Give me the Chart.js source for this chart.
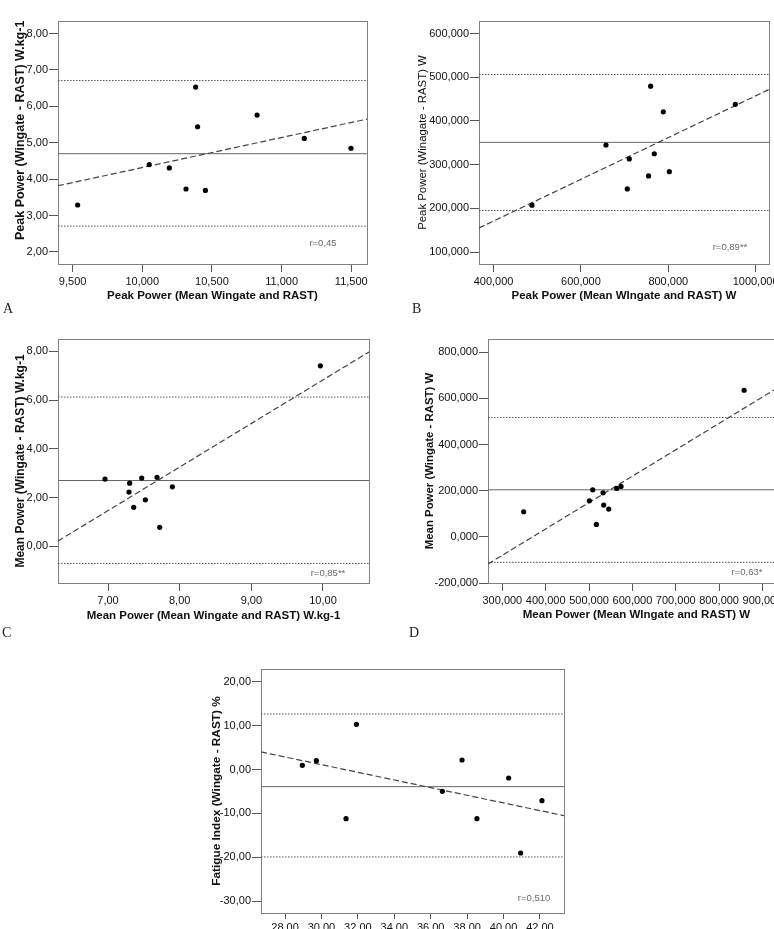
<!DOCTYPE html>
<html>
<head>
<meta charset="utf-8">
<script src="https://cdn.jsdelivr.net/npm/chart.js@4.4.1/dist/chart.umd.min.js"></script>
<style>
html, body { margin: 0; padding: 0; background: #fff; }
body { width: 774px; height: 929px; overflow: hidden; position: relative; }
canvas { position: absolute; }
.tag { position: absolute; font: 14px "Liberation Serif", "DejaVu Serif", serif; color: #222; line-height: 14px; }
</style>
</head>
<body>
<canvas id="chartA"></canvas>
<canvas id="chartB"></canvas>
<canvas id="chartC"></canvas>
<canvas id="chartD"></canvas>
<canvas id="chartE"></canvas>
<div class="tag" style="left:3px;top:302px">A</div>
<div class="tag" style="left:412px;top:302px">B</div>
<div class="tag" style="left:2px;top:626px">C</div>
<div class="tag" style="left:409px;top:626px">D</div>
<script>
// A - peak power, W.kg-1
var aMeans = [9.536, 10.05, 10.194, 10.314, 10.383, 10.397, 10.453, 10.824, 11.163, 11.498];
var aDiffs = [3.29, 4.40, 4.31, 3.73, 6.53, 5.44, 3.69, 5.76, 5.12, 4.85];
var aBias = 4.70;
var aLimits = [2.71, 6.71];
var aRegY = [3.82, 5.65];
var aXRange = [9.395, 11.613];
var aYRange = [1.67, 8.345];
var aXTicks = [9.5, 10, 10.5, 11, 11.5];
var aYTicks = [2, 3, 4, 5, 6, 7, 8];

// B - peak power, W
var bMeans = [487.9, 657.4, 710.8, 706.2, 759.6, 755, 768, 788.6, 802.4, 953.5];
var bDiffs = [207.3, 345, 313, 244.5, 479.7, 274.2, 325, 421, 284, 438];
var bBias = 351;
var bLimits = [195, 506.4];
var bRegY = [155, 472];
var bXRange = [366.6, 1030.7];
var bYRange = [72.6, 628.8];
var bXTicks = [400, 600, 800, 1000];
var bYTicks = [100, 200, 300, 400, 500, 600];

// C - mean power, W.kg-1
var cMeans = [6.958, 7.302, 7.293, 7.358, 7.470, 7.521, 7.684, 7.721, 7.898, 9.963];
var cDiffs = [2.76, 2.59, 2.225, 1.60, 2.80, 1.91, 2.83, 0.78, 2.44, 7.40];
var cBias = 2.70;
var cLimits = [-0.70, 6.12];
var cRegY = [0.22, 7.97];
var cXRange = [6.302, 10.642];
var cYRange = [-1.5, 8.5];
var cXTicks = [7, 8, 9, 10];
var cYTicks = [0, 2, 4, 6, 8];

// D - mean power, W
var dMeans = [349.2, 500.8, 508.5, 516.9, 532.3, 533.8, 545.4, 563.8, 573.8, 857.7];
var dDiffs = [108.8, 156.4, 204, 54, 191, 137.7, 120.3, 209.8, 218.5, 635.5];
var dBias = 204;
var dLimits = [-110.5, 517.2];
var dRegY = [-117.7, 665.7];
var dXRange = [266.9, 952];
var dYRange = [-200, 857.7];
var dXTicks = [300, 400, 500, 600, 700, 800, 900];
var dYTicks = [-200, 0, 200, 400, 600, 800];

// E - fatigue index, %
var eMeans = [28.95, 29.72, 31.35, 31.92, 36.64, 37.72, 38.54, 40.28, 40.94, 42.11];
var eDiffs = [0.96, 2.02, -11.18, 10.29, -4.96, 2.17, -11.18, -1.93, -19.0, -7.09];
var eBias = -3.90;
var eLimits = [-19.9, 12.64];
var eRegY = [4.0, -10.5];
var eXRange = [26.68, 43.32];
var eYRange = [-32.66, 22.88];
var eXTicks = [28, 30, 32, 34, 36, 38, 40, 42];
var eYTicks = [-30, -20, -10, 0, 10, 20];

var FONT = '"Liberation Sans", Arial, sans-serif';
var PAD_TOP = 21, PAD_RIGHT = 25;

function fmt(d) {
	return function (v) { return Number(v).toFixed(d).replace(".", ","); };
}
function pts(xs, ys) {
	return xs.map(function (x, i) { return {x: x, y: ys[i]}; });
}

// box round the plot area and the r= note
var framePlugin = {
	id: "frame",
	beforeDatasetsDraw: function (chart, args, opts) {
		var ctx = chart.ctx, a = chart.chartArea;
		ctx.save();
		ctx.strokeStyle = "#808080";
		ctx.lineWidth = 1;
		ctx.strokeRect(Math.round(a.left) + 0.5, Math.round(a.top) + 0.5,
			Math.round(a.right - a.left), Math.round(a.bottom - a.top));
		if (opts.note) {
			ctx.fillStyle = "#6a6a6a";
			ctx.font = "9.5px " + FONT;
			ctx.textAlign = "center";
			ctx.textBaseline = "middle";
			ctx.fillText(opts.note, a.right - opts.dx, a.bottom - opts.dy);
		}
		ctx.restore();
	}
};

function panel(id, p) {
	var canvas = document.getElementById(id);
	canvas.width = p.yw + p.boxW + PAD_RIGHT;
	canvas.height = PAD_TOP + p.boxH + p.xh;
	canvas.style.left = p.left + "px";
	canvas.style.top = p.top + "px";
	var ySize = p.yTitleSize || 12;
	var line = function (ys, color, dash, width) {
		return {data: pts(p.xRange, ys), showLine: true, borderColor: color, borderWidth: width,
			borderDash: dash, pointRadius: 0, pointHoverRadius: 0};
	};
	new Chart(canvas, {
		type: "scatter",
		data: {
			datasets: [
				{data: pts(p.means, p.diffs), pointRadius: 2.6, pointBorderWidth: 0,
					backgroundColor: "#000", borderColor: "#000"},
				line(p.regY, "#444", [6, 3], 1.2),
				line([p.bias, p.bias], "#666", [], 1),
				line([p.limits[0], p.limits[0]], "#555", [1.5, 1.5], 1),
				line([p.limits[1], p.limits[1]], "#555", [1.5, 1.5], 1)
			]
		},
		plugins: [framePlugin],
		options: {
			responsive: false,
			animation: false,
			layout: {padding: {top: PAD_TOP, right: PAD_RIGHT, left: 0, bottom: 0}},
			plugins: {
				legend: {display: false},
				tooltip: {enabled: false},
				frame: {note: p.note, dx: p.noteDx, dy: p.noteDy}
			},
			scales: {
				x: {
					type: "linear",
					min: p.xRange[0],
					max: p.xRange[1],
					afterBuildTicks: function (s) { s.ticks = p.xTicks.map(function (v) { return {value: v}; }); },
					afterFit: function (s) { s.height = p.xh; },
					grid: {display: true, drawOnChartArea: false, drawTicks: true, tickLength: p.xTick || 8, tickColor: "#555"},
					border: {display: false},
					ticks: {font: {family: FONT, size: 11}, color: "#111", padding: p.xTickPad || 3, maxRotation: 0,
						autoSkip: false, callback: fmt(p.xDec)},
					title: {display: !!p.xTitle, text: p.xTitle || "", color: "#111",
						font: {family: FONT, size: 11.5, weight: "bold"},
						padding: {top: 0, bottom: p.xTitlePad || 0}}
				},
				y: {
					type: "linear",
					min: p.yRange[0],
					max: p.yRange[1],
					afterBuildTicks: function (s) { s.ticks = p.yTicks.map(function (v) { return {value: v}; }); },
					afterFit: function (s) { s.width = p.yw; },
					grid: {display: true, drawOnChartArea: false, drawTicks: true, tickLength: 9, tickColor: "#555"},
					border: {display: false},
					ticks: {font: {family: FONT, size: 11}, color: "#111", padding: 1, autoSkip: false,
						callback: fmt(p.yDec)},
					title: {display: true, text: p.yTitle, color: "#111",
						font: {family: FONT, size: ySize, weight: p.yBold === false ? "normal" : "bold"},
						padding: {top: p.yTitleX - ySize * 0.6, bottom: 0}}
				}
			}
		}
	});
}

panel("chartA", {
	left: 0, top: 0, yw: 58, boxW: 309, boxH: 243, xh: 42,
	means: aMeans, diffs: aDiffs, bias: aBias, limits: aLimits, regY: aRegY,
	xRange: aXRange, yRange: aYRange, xTicks: aXTicks, yTicks: aYTicks, xDec: 3, yDec: 2,
	// leading spaces lift the title the way the original sits above centre
	yTitle: "       Peak Power (Wingate - RAST) W.kg-1", yTitleX: 21, yTitleSize: 12.5,
	xTitle: "Peak Power (Mean Wingate and RAST)", xTitlePad: 2.8,
	note: "r=0,45", noteDx: 44, noteDy: 21
});
panel("chartB", {
	left: 400, top: 0, yw: 79, boxW: 290, boxH: 243, xh: 42,
	means: bMeans, diffs: bDiffs, bias: bBias, limits: bLimits, regY: bRegY,
	xRange: bXRange, yRange: bYRange, xTicks: bXTicks, yTicks: bYTicks, xDec: 3, yDec: 3,
	yTitle: "Peak Power (Winagate - RAST) W", yTitleX: 23, yBold: false, yTitleSize: 11.4,
	xTitle: "Peak Power (Mean WIngate and RAST) W", xTitlePad: 2.8,
	note: "r=0,89**", noteDx: 39, noteDy: 17
});
panel("chartC", {
	left: 0, top: 318, yw: 58, boxW: 311, boxH: 244, xh: 43,
	means: cMeans, diffs: cDiffs, bias: cBias, limits: cLimits, regY: cRegY,
	xRange: cXRange, yRange: cYRange, xTicks: cXTicks, yTicks: cYTicks, xDec: 2, yDec: 2,
	yTitle: "Mean Power (Wingate - RAST) W.kg-1", yTitleX: 21,
	xTitle: "Mean Power (Mean Wingate and RAST) W.kg-1", xTitlePad: 3.1,
	note: "r=0,85**", noteDx: 41, noteDy: 10
});
panel("chartD", {
	left: 405, top: 318, yw: 83, boxW: 297, boxH: 244, xh: 43,
	means: dMeans, diffs: dDiffs, bias: dBias, limits: dLimits, regY: dRegY,
	xRange: dXRange, yRange: dYRange, xTicks: dXTicks, yTicks: dYTicks, xDec: 3, yDec: 3,
	yTitle: "Mean Power (Wingate - RAST) W", yTitleX: 25, yTitleSize: 11.4,
	xTitle: "Mean Power (Mean WIngate and RAST) W", xTitlePad: 3.8,
	note: "r=0,63*", noteDx: 38, noteDy: 11
});
panel("chartE", {
	left: 195, top: 648, yw: 66, boxW: 303, boxH: 244, xh: 47, xTick: 6, xTickPad: 2,
	means: eMeans, diffs: eDiffs, bias: eBias, limits: eLimits, regY: eRegY,
	xRange: eXRange, yRange: eYRange, xTicks: eXTicks, yTicks: eYTicks, xDec: 2, yDec: 2,
	yTitle: "Fatigue Index (Wingate - RAST) %", yTitleX: 22, yTitleSize: 11.8,
	note: "r=0,510", noteDx: 30, noteDy: 15
});
</script>
</body>
</html>
